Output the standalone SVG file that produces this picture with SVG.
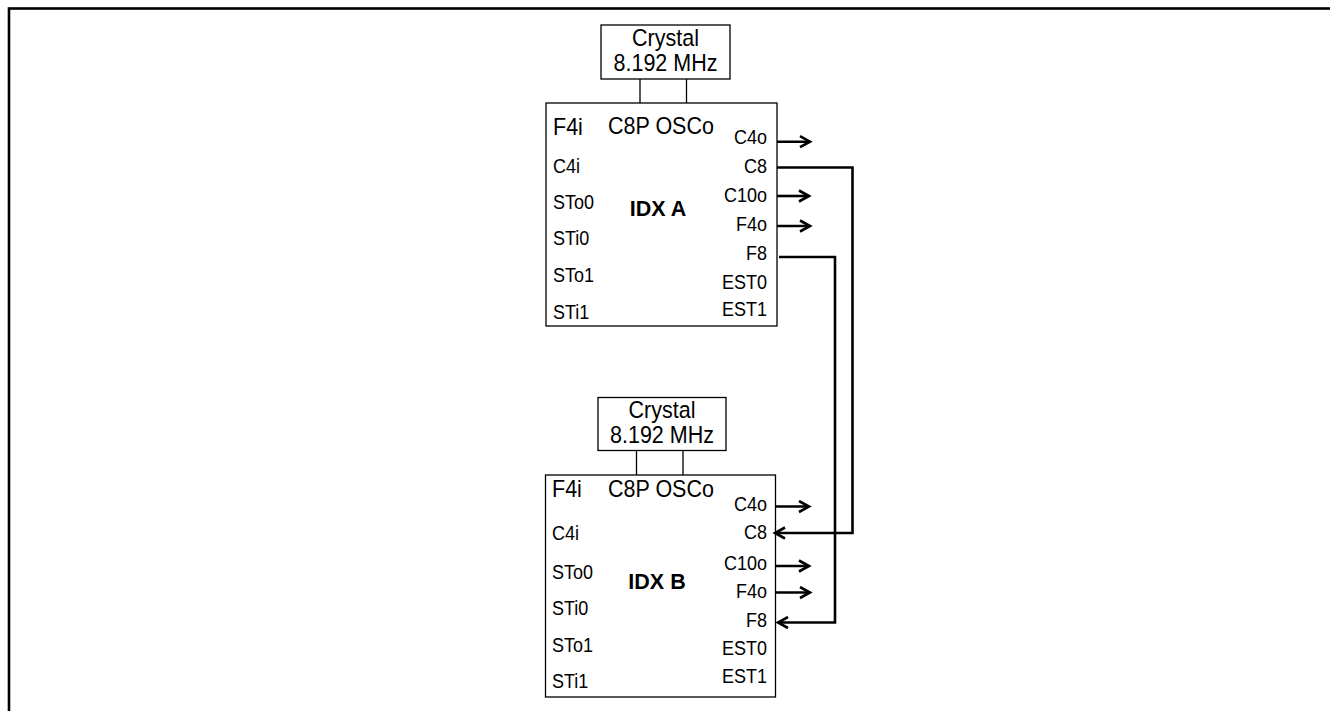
<svg xmlns="http://www.w3.org/2000/svg" width="1330" height="711" viewBox="0 0 1330 711">
<style>
.box{fill:#fff;stroke:#000;stroke-width:1.3}
.lead{stroke:#000;stroke-width:1.3;fill:none}
.t{font-family:"Liberation Sans",Arial,sans-serif;fill:#000}
.big{font-size:21.5px}
.sm{font-size:18px}
.r{text-anchor:end}
.c{text-anchor:middle}
.b{font-weight:bold;font-size:21.5px}
.w{stroke:#000;stroke-width:2.6;fill:none}
</style>
<defs>
<marker id="ah" markerWidth="14" markerHeight="14" refX="11" refY="6.5" orient="auto" markerUnits="userSpaceOnUse" viewBox="0 0 14 13">
<polyline points="1,1 11,6.5 1,12" fill="none" stroke="#000" stroke-width="2.6"/>
</marker>
</defs>
<rect x="9" y="8.5" width="1340" height="720" fill="none" stroke="#000" stroke-width="2.6"/>
<g id="crystalA">
<rect class="box" x="601" y="25" width="129" height="54"/>
<text class="t big c" transform="translate(665.5 46) scale(1 1.1)">Crystal</text>
<text class="t big c" transform="translate(665.5 71) scale(1 1.1)">8.192 MHz</text>
<line class="lead" x1="640" y1="79" x2="640" y2="103"/>
<line class="lead" x1="686.5" y1="79" x2="686.5" y2="103"/>
</g>
<g id="idxA">
<rect class="box" x="546" y="103" width="231" height="223"/>
<text class="t big" transform="translate(553 134.5) scale(1 1.1)">F4i</text>
<text class="t big" transform="translate(608 134) scale(1 1.1)">C8P OSCo</text>
<text class="t sm" transform="translate(553 172.5) scale(1 1.1)">C4i</text>
<text class="t sm" transform="translate(553 208.5) scale(1 1.1)">STo0</text>
<text class="t sm" transform="translate(553 245) scale(1 1.1)">STi0</text>
<text class="t sm" transform="translate(553 282) scale(1 1.1)">STo1</text>
<text class="t sm" transform="translate(553 318.5) scale(1 1.1)">STi1</text>
<text class="t sm r" transform="translate(767 144) scale(1 1.1)">C4o</text>
<text class="t sm r" transform="translate(767 172.5) scale(1 1.1)">C8</text>
<text class="t sm r" transform="translate(767 201.5) scale(1 1.1)">C10o</text>
<text class="t sm r" transform="translate(767 230.5) scale(1 1.1)">F4o</text>
<text class="t sm r" transform="translate(767 259.5) scale(1 1.1)">F8</text>
<text class="t sm r" transform="translate(767 288.5) scale(1 1.1)">EST0</text>
<text class="t sm r" transform="translate(767 316) scale(1 1.1)">EST1</text>
<text class="t b c" transform="translate(658 216) scale(1 1.05)">IDX A</text>
</g>
<g id="crystalB">
<rect class="box" x="598" y="397.5" width="128" height="53"/>
<text class="t big c" transform="translate(662 418) scale(1 1.1)">Crystal</text>
<text class="t big c" transform="translate(662 443) scale(1 1.1)">8.192 MHz</text>
<line class="lead" x1="636.5" y1="450.5" x2="636.5" y2="475"/>
<line class="lead" x1="683" y1="450.5" x2="683" y2="475"/>
</g>
<g id="idxB">
<rect class="box" x="545.5" y="475" width="230" height="222"/>
<text class="t big" transform="translate(552 496.5) scale(1 1.1)">F4i</text>
<text class="t big" transform="translate(608 497) scale(1 1.1)">C8P OSCo</text>
<text class="t sm" transform="translate(552 540) scale(1 1.1)">C4i</text>
<text class="t sm" transform="translate(552 578.5) scale(1 1.1)">STo0</text>
<text class="t sm" transform="translate(552 615) scale(1 1.1)">STi0</text>
<text class="t sm" transform="translate(552 652) scale(1 1.1)">STo1</text>
<text class="t sm" transform="translate(552 688) scale(1 1.1)">STi1</text>
<text class="t sm r" transform="translate(767 511) scale(1 1.1)">C4o</text>
<text class="t sm r" transform="translate(767 538.5) scale(1 1.1)">C8</text>
<text class="t sm r" transform="translate(767 570) scale(1 1.1)">C10o</text>
<text class="t sm r" transform="translate(767 597.5) scale(1 1.1)">F4o</text>
<text class="t sm r" transform="translate(767 627) scale(1 1.1)">F8</text>
<text class="t sm r" transform="translate(767 655) scale(1 1.1)">EST0</text>
<text class="t sm r" transform="translate(767 683) scale(1 1.1)">EST1</text>
<text class="t b c" transform="translate(657 588.5) scale(1 1.05)">IDX B</text>
</g>
<g id="connectors">
<line class="w" x1="777" y1="141.7" x2="810" y2="141.7" marker-end="url(#ah)"/>
<line class="w" x1="777" y1="196" x2="809" y2="196" marker-end="url(#ah)"/>
<line class="w" x1="777" y1="226" x2="810" y2="226" marker-end="url(#ah)"/>
<line class="w" x1="776" y1="506.5" x2="809" y2="506.5" marker-end="url(#ah)"/>
<line class="w" x1="776" y1="566" x2="809" y2="566" marker-end="url(#ah)"/>
<line class="w" x1="776" y1="592.5" x2="810" y2="592.5" marker-end="url(#ah)"/>
<polyline class="w" points="777,167.5 852.5,167.5 852.5,533 775,533" marker-end="url(#ah)"/>
<polyline class="w" points="779,257 835,257 835,622.5 778,622.5" marker-end="url(#ah)"/>
</g>
</svg>
